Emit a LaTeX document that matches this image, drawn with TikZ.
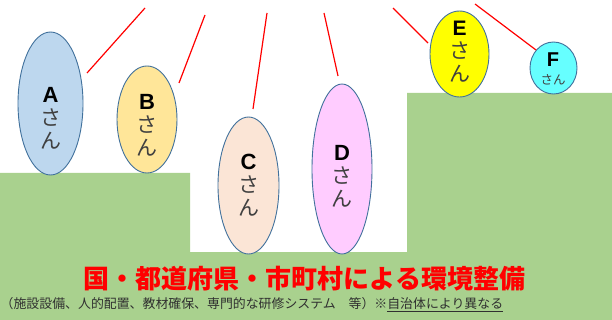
\documentclass[tikz,border=0pt]{standalone}
\usepackage{fontspec}
\setmainfont{Liberation Sans}
\newfontfamily\jp{Noto Sans CJK JP}
\newfontfamily\lat{Liberation Sans}
\usetikzlibrary{shapes.geometric}
\definecolor{grn}{HTML}{A9D18E}
\definecolor{edge}{HTML}{41719C}
\definecolor{cA}{HTML}{BDD7EE}
\definecolor{cB}{HTML}{FFE699}
\definecolor{cC}{HTML}{FBE5D6}
\definecolor{cD}{HTML}{FFCCFF}
\definecolor{cE}{HTML}{FFFF00}
\definecolor{cF}{HTML}{66FFFF}
\definecolor{kana}{HTML}{404040}
\definecolor{sub}{HTML}{303030}
\tikzset{
  person/.style={ellipse, draw=edge, line width=0.9pt, inner sep=0pt},
  who/.style={align=center, inner sep=0pt, text=kana, font=\jp\fontsize{21}{23}\selectfont},
  ray/.style={draw=red, line width=1.2pt},
}
\newcommand{\ltr}[1]{{\lat\bfseries\fontsize{22}{23}\selectfont\color{black}#1}}
\begin{document}
\begin{tikzpicture}[x=1pt,y=-1pt]
\useasboundingbox (0,0) rectangle (612,320);
\fill[white] (0,0) rectangle (612,320);
% ground
\fill[grn] (0,173) -- (190,173) -- (190,252) -- (407,252) -- (407,93) -- (612,93) -- (612,320) -- (0,320) -- cycle;
% people
\node[person, fill=cA, minimum width=65pt, minimum height=143pt] (A) at (50.5,103.5) {};
\node[person, fill=cB, minimum width=60pt, minimum height=107pt] (B) at (147,119.5) {};
\node[person, fill=cC, minimum width=61pt, minimum height=137pt] (C) at (248.5,185.5) {};
\node[person, fill=cD, minimum width=60pt, minimum height=170pt] (D) at (342,169) {};
\node[person, fill=cE, minimum width=59pt, minimum height=86pt] (E) at (459.5,54) {};
\node[person, fill=cF, minimum width=47pt, minimum height=52pt] (F) at (553.5,68) {};
% labels
\node[who] (At) at (50.5,118.5) {\ltr{A}\\さ\\ん};
\node[who] (Bt) at (147,125) {\ltr{B}\\さ\\ん};
\node[who] (Ct) at (248.5,185) {\ltr{C}\\さ\\ん};
\node[who] (Dt) at (342,176) {\ltr{D}\\さ\\ん};
\node[who] (Et) at (459.5,51.5) {{\lat\bfseries\fontsize{21}{23}\selectfont\color{black}E}\\さ\\ん};
\node[inner sep=0pt, font=\lat\bfseries\fontsize{20}{20}\selectfont] (Ft) at (553,60) {F};
\node[inner sep=0pt, text=kana, font=\jp\fontsize{12.5}{13}\selectfont] (Fs) at (553,79.5) {さん};
% rays
\coordinate (r1a) at (145,8);   \coordinate (r1b) at (87,73);
\coordinate (r2a) at (205,15);  \coordinate (r2b) at (179,83);
\coordinate (r3a) at (267,13);  \coordinate (r3b) at (253,109);
\coordinate (r4a) at (324,13);  \coordinate (r4b) at (338,76);
\coordinate (r5a) at (393,8);   \coordinate (r5b) at (428,43);
\coordinate (r6a) at (475,4);   \coordinate (r6b) at (536,50);
\draw[ray] (r1a) -- (r1b);
\draw[ray] (r2a) -- (r2b);
\draw[ray] (r3a) -- (r3b);
\draw[ray] (r4a) -- (r4b);
\draw[ray] (r5a) -- (r5b);
\draw[ray] (r6a) -- (r6b);
% captions
\node[inner sep=0pt, text=red, font=\jp\bfseries\fontsize{26}{28}\selectfont] (title) at (304.5,279) {国・都道府県・市町村による環境整備};
\node[inner sep=0pt, anchor=west, text=sub, font=\jp\fontsize{12.9}{14}\selectfont] (note) at (0.5,305) {（施設設備、人的配置、教材確保、専門的な研修システム　等）※\underline{自治体により異なる}};
\end{tikzpicture}
\end{document}
